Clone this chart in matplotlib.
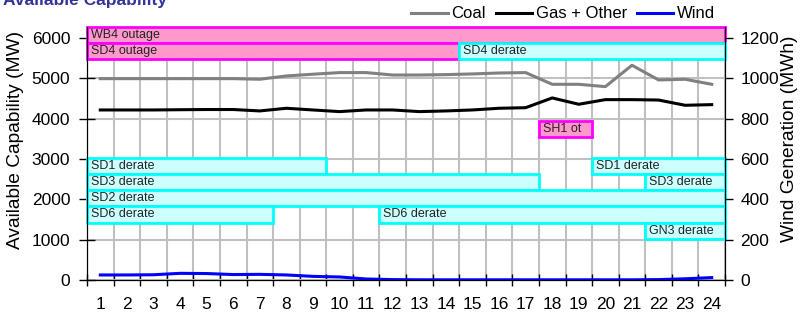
import numpy as np
import matplotlib.pyplot as plt
from matplotlib.patches import Rectangle

plt.rcParams['font.family'] = ['Liberation Sans', 'DejaVu Sans']

# Hourly data
hours = list(range(1, 25))
coal = [4990, 4990, 4990, 4990, 4990, 4990, 4975, 5057, 5100, 5140, 5140, 5080,
        5080, 5090, 5107, 5130, 5140, 4850, 4850, 4792, 5322, 4958, 4975, 4850]
gas_other = [4214, 4214, 4214, 4220, 4225, 4225, 4190, 4256, 4214, 4173, 4214, 4214,
             4173, 4190, 4214, 4256, 4270, 4512, 4355, 4470, 4470, 4460, 4330, 4346]
wind = [25, 25, 26, 33, 32, 27, 28, 25, 18, 15, 5, 2,
        1, 1, 1, 1, 1, 1, 1, 1, 1, 2, 6, 12]

# Outage / derate annotations (first hour, last hour, lane)
box_text = ['WB4 outage', 'SD4 outage', 'SD4 derate', 'SH1 ot',
            'SD1 derate', 'SD1 derate', 'SD3 derate', 'SD3 derate',
            'SD2 derate', 'SD6 derate', 'SD6 derate', 'GN3 derate']
box_start = [1, 1, 15, 18, 1, 20, 1, 22, 1, 1, 12, 22]
box_end = [24, 14, 24, 19, 9, 24, 17, 24, 24, 7, 24, 24]
box_lane = [0, 1, 1, 2, 3, 3, 4, 4, 5, 6, 6, 7]
box_kind = ['outage', 'outage', 'derate', 'outage',
            'derate', 'derate', 'derate', 'derate',
            'derate', 'derate', 'derate', 'derate']

lane_top = [6270, 5870, 3950, 3025, 2625, 2225, 1825, 1425]
lane_h = 400
styles = {'outage': ('#FF99CC', '#FF00FF'), 'derate': ('#CCFFFF', '#00FFFF')}

fig = plt.figure(figsize=(8.02, 3.18), dpi=100)
ax = fig.add_axes([87/802, 1-280/318, 638/802, 253/318])
ax2 = ax.twinx()

ymax = 6270
ax.set_xlim(0.5, 24.5)
ax.set_ylim(0, ymax)
ax2.set_ylim(0, ymax/5)

ax.set_xticks(hours)
ax.set_xticks(np.arange(0.5, 25, 1), minor=True)
ax.set_yticks(range(0, 7000, 1000))
ax2.set_yticks(range(0, 1400, 200))

ax.grid(True, which='minor', axis='x', color='#C0C0C0', lw=1.5)
ax.grid(True, which='major', axis='y', color='#C0C0C0', lw=1.5)
ax.set_axisbelow(True)

ax.tick_params(axis='x', which='major', length=0, labelsize=12.5, pad=12)
ax.tick_params(axis='x', which='minor', direction='inout', length=9, width=1)
ax.tick_params(axis='y', direction='inout', length=12, width=1, labelsize=12.5, pad=6)
ax2.tick_params(axis='y', direction='out', length=6, width=1, labelsize=12.5, pad=5)

ax.spines['top'].set_visible(False)
ax2.spines['top'].set_visible(False)

for lbl, s, e, ln, k in zip(box_text, box_start, box_end, box_lane, box_kind):
    fc, ec = styles[k]
    y0 = lane_top[ln] - lane_h
    r = Rectangle((s - 0.5, y0), e - s + 1, lane_h, facecolor=fc, edgecolor=ec,
                  lw=2, zorder=3, clip_on=False)
    ax.add_patch(r)
    ax.text(s - 0.5 + 0.15, y0 + lane_h/2, lbl, fontsize=9, color='#222222',
            va='center', ha='left', zorder=4)

l1, = ax.plot(hours, coal, color='#808080', lw=2.2, zorder=5, label='Coal')
l2, = ax.plot(hours, gas_other, color='black', lw=2.2, zorder=5, label='Gas + Other')
l3, = ax2.plot(hours, wind, color='#0000FF', lw=2.2, label='Wind')

fig.text(16/802, 1-140/318, 'Available Capability (MW)', fontsize=13.8,
         rotation=90, ha='center', va='center')
fig.text(790/802, 1-139/318, 'Wind Generation (MWh)', fontsize=13.8,
         rotation=90, ha='center', va='center')

fig.legend([l1, l2, l3], ['Coal', 'Gas + Other', 'Wind'], ncol=3, frameon=False,
           loc='center', bbox_to_anchor=(563/802, 1-14/318), fontsize=12,
           handlelength=2.2, handletextpad=0.2, columnspacing=0.6,
           borderpad=0, borderaxespad=0)

fig.text(3/802, 1-5/318, 'Available Capability', fontsize=12.5, fontweight='bold',
         color='#333399', ha='left', va='baseline')

plt.savefig('out.png', dpi=100)
